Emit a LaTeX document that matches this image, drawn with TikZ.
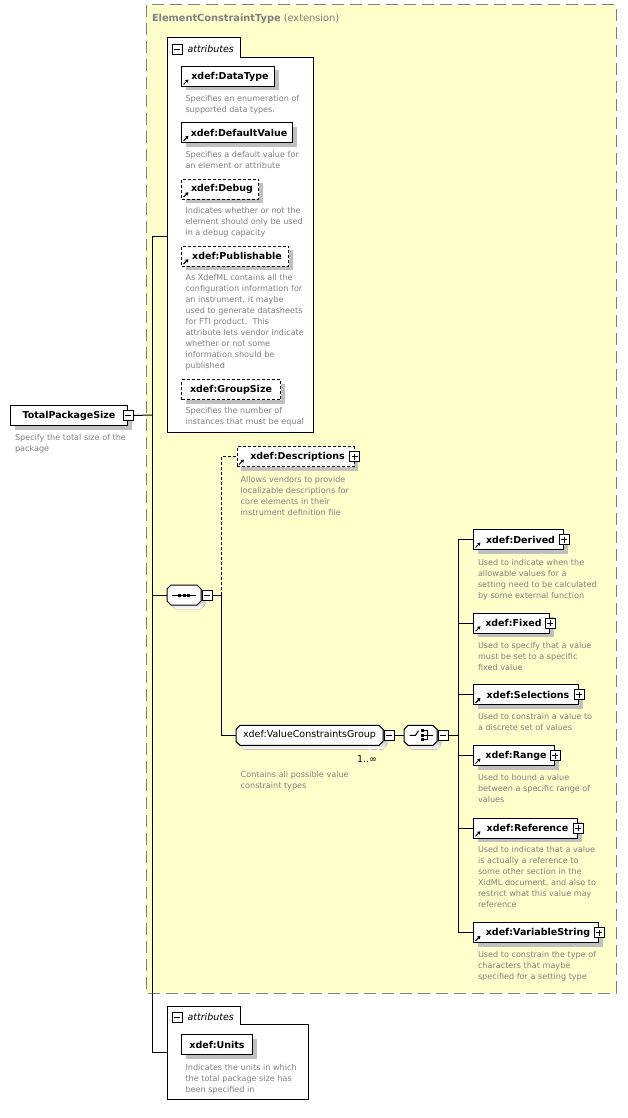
\documentclass[tikz,border=0pt]{standalone}
\usepackage{fontspec}
\setmainfont{DejaVu Sans}
\usetikzlibrary{shadows,arrows.meta}

\definecolor{extfill}{RGB}{255,255,204}
\definecolor{extline}{RGB}{128,128,128}
\definecolor{doctext}{RGB}{128,128,128}
\definecolor{shade}{RGB}{192,192,192}

% chamfered frame of a compositor or group: x1, y1, x2, y2
\newcommand{\compframe}[4]{%
	\fill[shade, shift={(4,4)}] (#1+4,#2) -- (#3-4,#2) -- (#3,#2+4) -- (#3,#4-4) -- (#3-4,#4) -- (#1+4,#4) -- (#1,#4-4) -- (#1,#2+4) -- cycle;
	\filldraw[fill=white] (#1+4,#2) -- (#3-4,#2) -- (#3,#2+4) -- (#3,#4-4) -- (#3-4,#4) -- (#1+4,#4) -- (#1,#4-4) -- (#1,#2+4) -- cycle;
}

\tikzset{
	elem/.style={draw, fill=white, anchor=north west, minimum height=20, inner sep=0,
		font=\fontsize{9.5}{11}\selectfont\bfseries,
		drop shadow={shadow xshift=4pt, shadow yshift=-4pt, fill=shade, opacity=1}},
	optional/.style={elem, dash pattern=on 3pt off 2pt},
	refel/.style={execute at begin node=\hspace*{4pt},
		path picture={\draw[solid, line width=1pt, -{Triangle[length=3pt,width=3.5pt]}]
			([xshift=2pt,yshift=2pt]path picture bounding box.south west) -- ++(5pt,5pt);}},
	doc/.style={anchor=north west, inner sep=0, align=left, text=doctext,
		font=\fontsize{8.1}{11}\selectfont},
	toggle/.style={draw, fill=white, minimum size=10, inner sep=0},
	minus/.style={toggle, path picture={\draw[solid]
			([xshift=2pt]path picture bounding box.west) -- ([xshift=-2pt]path picture bounding box.east);}},
	plus/.style={toggle, path picture={\draw[solid]
			([xshift=2pt]path picture bounding box.west) -- ([xshift=-2pt]path picture bounding box.east)
			([yshift=-2pt]path picture bounding box.north) -- ([yshift=2pt]path picture bounding box.south);}},
	compositor/.style={minimum height=20, inner sep=0},
	tablabel/.style={anchor=west, inner sep=0, font=\fontsize{9.5}{11}\selectfont\itshape},
	dotline/.style={dash pattern=on 3pt off 2pt}
}

\begin{document}
\begin{tikzpicture}[x=1pt, y=-1pt, line width=1pt]
	\useasboundingbox (0,0) rectangle (627,1118);

	% extension area
	\draw[extline, fill=extfill, dash pattern=on 12pt off 6pt] (146,5) rectangle (616,993);
	\node (exttitle) [anchor=west, inner sep=0, text=doctext, font=\fontsize{9.8}{11}\selectfont] at (151.5,19) {\textbf{ElementConstraintType} (extension)};

	% attributes of the extension
	\draw[fill=white] (167,38) -- (240,38) -- (240,57.5) -- (313,57.5) -- (313,432) -- (167,432) -- cycle;
	\node (attrtogA) [minus] at (177.3,49.3) {};
	\node (attrlabA) [tablabel] at (187,49) {attributes};
	\coordinate (attrA) at (167,236);

	\node (datatype) [elem, refel, minimum width=93] at (181,66) {xdef:DataType};
	\node (datatypedoc) [doc] at (185,95.2) {Specifies an enumeration of\\supported data types.};
	\node (defaultvalue) [elem, refel, minimum width=111] at (181,122.3) {xdef:DefaultValue};
	\node (defaultdoc) [doc] at (185,151.2) {Specifies a default value for\\an element or attribute};
	\node (debug) [optional, refel, minimum width=77] at (181,178.7) {xdef:Debug};
	\node (debugdoc) [doc] at (185,206.8) {Indicates whether or not the\\element should only be used\\in a debug capacity};
	\node (publishable) [optional, refel, minimum width=107] at (181,245.7) {xdef:Publishable};
	\node (publishdoc) [doc] at (185,273.8) {As XdefML contains all the\\configuration information for\\an instrument, it maybe\\used to generate datasheets\\for FTI product.\ \ This\\attribute lets vendor indicate\\whether or not some\\information should be\\published};
	\node (groupsize) [optional, minimum width=99] at (181,379) {xdef:GroupSize};
	\node (groupdoc) [doc] at (185,407.2) {Specifies the number of\\instances that must be equal};

	% root element
	\node (tps) [elem, minimum width=117] at (10,405) {TotalPackageSize};
	\node (tpstog) [minus] at (tps.east) {};
	\node (tpsdoc) [doc] at (14.5,434.2) {Specify the total size of the\\package};
	\coordinate (trunk) at (152,415);

	% sequence
	\compframe{167}{585}{201}{605}
	\node (seq) [compositor, minimum width=34] at (184,595) {};
	\draw ([xshift=-12pt]seq.center) -- ([xshift=12pt]seq.center);
	\foreach \dx in {-4.5,0,4.5}
		\fill ([xshift=\dx pt]seq.center) +(-1.5,-1.5) rectangle +(1.5,1.5);
	\node (seqtog) [minus, anchor=west] at (seq.east) {};
	\coordinate (branch) at (221,595);

	\node (descriptions) [optional, refel, minimum width=117] at (236.5,446) {xdef:Descriptions};
	\node (descriptionstog) [plus] at (descriptions.east) {};
	\node (descdoc) [doc] at (240.2,475.5) {Allows vendors to provide\\localizable descriptions for\\core elements in their\\instrument definition file};

	% group
	\compframe{236}{725.3}{383}{745.3}
	\draw[white] (369,748.5) -- (374,753) -- (379,748.5);
	\node (vcg) [compositor, minimum width=147, font=\fontsize{9.5}{11}\selectfont] at (309.5,735.3) {xdef:ValueConstraintsGroup};
	\node (vcgtog) [minus, anchor=west] at (vcg.east) {};
	\node (vcgmult) [inner sep=0, font=\fontsize{9.5}{11}\selectfont] at (367,759.3) {1..∞};
	\node (vcgdoc) [doc] at (240.2,770.8) {Contains all possible value\\constraint types};

	% choice
	\compframe{404}{725.3}{437}{745.3}
	\node (choice) [compositor, minimum width=33] at (420.5,735.3) {};
	\draw ([xshift=-11pt]choice.center) -- ([xshift=-5pt]choice.center) -- ([xshift=-2pt,yshift=4.5pt]choice.center);
	\foreach \dy in {-4.5,0,4.5}
		\fill ([xshift=1.5pt,yshift=\dy pt]choice.center) +(-1.5,-1.5) rectangle +(1.5,1.5);
	\draw ([xshift=3pt,yshift=4.5pt]choice.center) -| ([xshift=7pt,yshift=-4.5pt]choice.center) -- ([xshift=3pt,yshift=-4.5pt]choice.center)
		([xshift=3pt]choice.center) -- ([xshift=12pt]choice.center);
	\node (choicetog) [minus, anchor=west] at (choice.east) {};
	\coordinate (fork) at (458,735.3);

	\node (derived) [elem, refel, minimum width=90] at (473,529) {xdef:Derived};
	\node (derivedtog) [plus] at (derived.east) {};
	\node (deriveddoc) [doc] at (477.5,558.5) {Used to indicate when the\\allowable values for a\\setting need to be calculated\\by some external function};
	\node (fixed) [elem, refel, minimum width=76] at (473,612.7) {xdef:Fixed};
	\node (fixedtog) [plus] at (fixed.east) {};
	\node (fixeddoc) [doc] at (477.5,641.5) {Used to specify that a value\\must be set to a specific\\fixed value};
	\node (selections) [elem, refel, minimum width=105] at (473,684.3) {xdef:Selections};
	\node (selectionstog) [plus] at (selections.east) {};
	\node (selectdoc) [doc] at (477.5,713.2) {Used to constrain a value to\\a discrete set of values};
	\node (range) [elem, refel, minimum width=81] at (473,745) {xdef:Range};
	\node (rangetog) [plus] at (range.east) {};
	\node (rangedoc) [doc] at (477.5,774.2) {Used to bound a value\\between a specific range of\\values};
	\node (reference) [elem, refel, minimum width=104] at (473,817.7) {xdef:Reference};
	\node (referencetog) [plus] at (reference.east) {};
	\node (refdoc) [doc] at (477.5,845.8) {Used to indicate that a value\\is actually a reference to\\some other section in the\\XidML document, and also to\\restrict what this value may\\reference};
	\node (varstring) [elem, refel, minimum width=125] at (473,922.3) {xdef:VariableString};
	\node (varstringtog) [plus] at (varstring.east) {};
	\node (varstrdoc) [doc] at (477.5,950.8) {Used to constrain the type of\\characters that maybe\\specified for a setting type};

	% attributes of the element
	\draw[fill=white] (167,1006) -- (240,1006) -- (240,1024.5) -- (308,1024.5) -- (308,1099.5) -- (167,1099.5) -- cycle;
	\node (attrtogB) [minus] at (177.3,1017.3) {};
	\node (attrlabB) [tablabel] at (187,1016.5) {attributes};
	\coordinate (attrB) at (167,1052.3);
	\node (units) [elem, minimum width=71] at (181,1034) {xdef:Units};
	\node (unitsdoc) [doc] at (185,1063.8) {Indicates the units in which\\the total package size has\\been specified in};

	% connectors
	\draw (tpstog.east) -- (trunk);
	\draw (attrA) -| (trunk |- attrB) -- (attrB);
	\draw (trunk |- seq.west) -- (seq.west);
	\draw (seqtog.east) -- (branch) |- (vcg.west);
	\draw[dotline] (branch) |- (descriptions.west);
	\draw (vcgtog.east) -- (choice.west);
	\draw (choicetog.east) -- (fork);
	\foreach \e in {derived,fixed,selections,range,reference,varstring}
		\draw (fork) |- (\e.west);
\end{tikzpicture}
\end{document}
